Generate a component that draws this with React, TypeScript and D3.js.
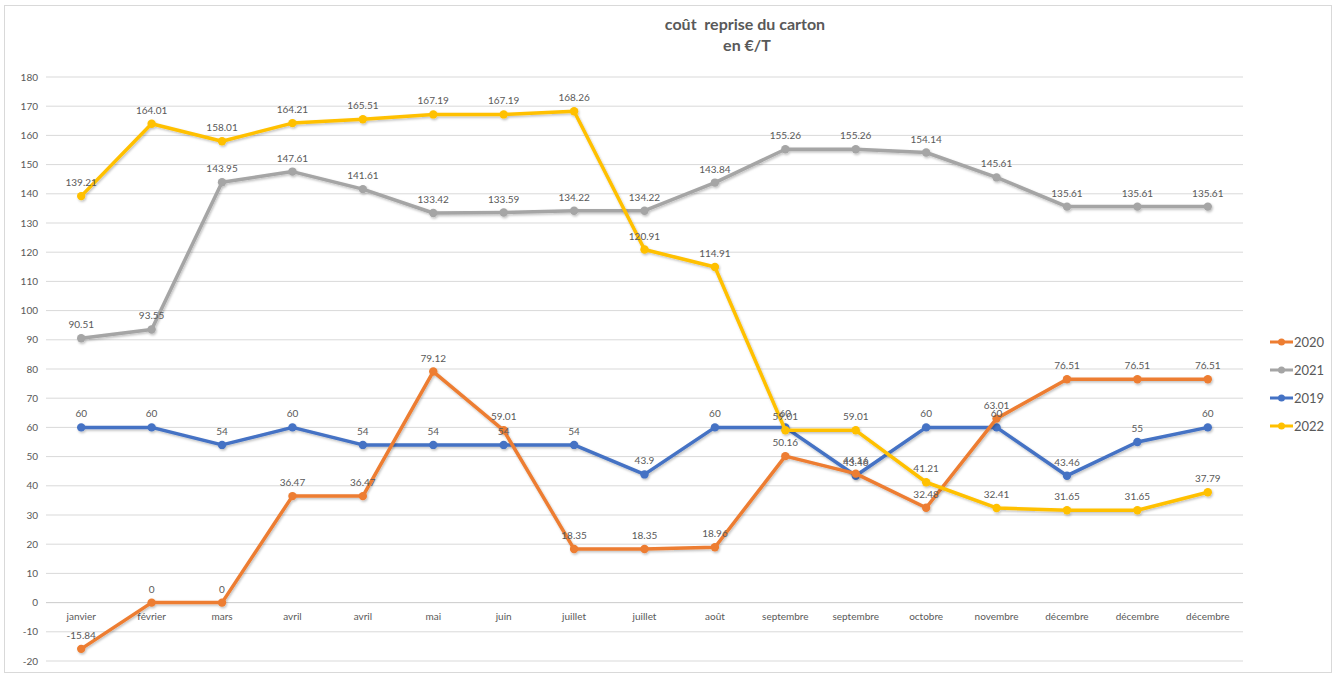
import React from "react";
import * as d3 from "d3";

const months = ["janvier","février","mars","avril","avril","mai","juin","juillet","juillet","août","septembre","septembre","octobre","novembre","décembre","décembre","décembre"];
const s2019 = [60,60,54,60,54,54,54,54,43.9,60,60,43.46,60,60,43.46,55,60];
const s2020 = [-15.84,0,0,36.47,36.47,79.12,59.01,18.35,18.35,18.96,50.16,44.16,32.48,63.01,76.51,76.51,76.51];
const s2021 = [90.51,93.55,143.95,147.61,141.61,133.42,133.59,134.22,134.22,143.84,155.26,155.26,154.14,145.61,135.61,135.61,135.61];
const s2022 = [139.21,164.01,158.01,164.21,165.51,167.19,167.19,168.26,120.91,114.91,59.01,59.01,41.21,32.41,31.65,31.65,37.79];
const yTicks = [-20,-10,0,10,20,30,40,50,60,70,80,90,100,110,120,130,140,150,160,170,180];

const series = [
  { name: "2020", values: s2020, color: "#ED7D31" },
  { name: "2021", values: s2021, color: "#A5A5A5" },
  { name: "2019", values: s2019, color: "#4472C4" },
  { name: "2022", values: s2022, color: "#FFC000" },
];
const drawOrder = ["2021", "2019", "2020", "2022"];

const W = 1341, H = 675;
const left = 46, right = 1243, top = 77, bottom = 661;
const font = "Lato, 'Liberation Sans', sans-serif";
const textColor = "#595959";

export default function App() {
  const idx = months.map((_, i) => String(i));
  const x = d3.scaleBand<string>().domain(idx).range([left, right]);
  const y = d3.scaleLinear().domain([-20, 180]).range([bottom, top]);
  const cx = (i: number) => (x(String(i)) as number) + x.bandwidth() / 2;
  const line = d3.line<number>().x((_, i) => cx(i)).y((d) => y(d));
  const ordered = drawOrder.map((n) => series.find((s) => s.name === n)!);

  return (
    <svg width={W} height={H} style={{ position: "absolute", left: 0, top: 0, background: "#fff" }}>
      <defs>
        <filter id="sh" x="-5%" y="-5%" width="110%" height="110%">
          <feDropShadow dx="1" dy="1.5" stdDeviation="1.2" floodColor="#000" floodOpacity="0.25" />
        </filter>
      </defs>
      <rect x={4.5} y={5.5} width={1327} height={667} fill="#fff" stroke="#d9d9d9" />
      <text x={745} y={30} textAnchor="middle" fontFamily={font} fontWeight="bold" fontSize={16} fill={textColor} style={{ whiteSpace: "pre" }}>{"coût\u00a0 reprise du carton"}</text>
      <text x={747} y={51} textAnchor="middle" fontFamily={font} fontWeight="bold" fontSize={16} fill={textColor}>en €/T</text>
      {yTicks.map((t) => (
        <g key={t}>
          <line x1={left} x2={right} y1={y(t)} y2={y(t)} stroke="#d9d9d9" strokeWidth={1} />
          <text x={38} y={y(t) + 3.5} textAnchor="end" fontFamily={font} fontSize={10} fill={textColor}>{t}</text>
        </g>
      ))}
      <line x1={left} x2={right} y1={y(0)} y2={y(0)} stroke="#d0d0d0" strokeWidth={1} />
      {months.map((m, i) => (
        <text key={i} x={cx(i)} y={y(0) + 17} textAnchor="middle" fontFamily={font} fontSize={10} fill={textColor}>{m}</text>
      ))}
      {ordered.map((s) => (
        <g key={s.name} filter="url(#sh)">
          <path d={line(s.values) as string} fill="none" stroke={s.color} strokeWidth={3.5} strokeLinejoin="round" />
          {s.values.map((v, i) => (
            <circle key={i} cx={cx(i)} cy={y(v)} r={4.2} fill={s.color} />
          ))}
        </g>
      ))}
      {ordered.map((s) => (
        <g key={s.name + "l"}>
          {s.values.map((v, i) => (
            <text key={i} x={cx(i)} y={y(v) - 10} textAnchor="middle" fontFamily={font} fontSize={10} fill={textColor}>{String(v)}</text>
          ))}
        </g>
      ))}
      {series.map((s, k) => {
        const ly = 342 + k * 28;
        return (
          <g key={s.name + "lg"}>
            <line x1={1270} x2={1293} y1={ly} y2={ly} stroke={s.color} strokeWidth={3} />
            <circle cx={1281.5} cy={ly} r={3.5} fill={s.color} />
            <text x={1294} y={ly + 5} fontFamily={font} fontSize={13} fill={textColor}>{s.name}</text>
          </g>
        );
      })}
    </svg>
  );
}
